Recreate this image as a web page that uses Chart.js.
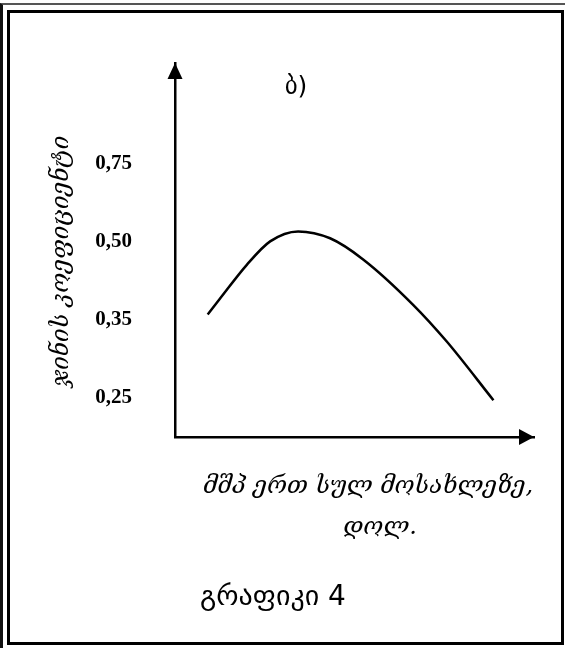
<!DOCTYPE html>
<html>
<head>
<meta charset="utf-8">
<script src="https://cdn.jsdelivr.net/npm/chart.js@4.4.0/dist/chart.umd.min.js"></script>
<style>
  html, body { margin: 0; padding: 0; background: #fff; overflow: hidden; }
  #marco { position: relative; width: 565px; height: 648px; }
  .bordeExt { position: absolute; left: 0; top: 3px; width: 620px; height: 700px; box-sizing: border-box;
    border-left: 3px solid #111; border-top: 2px solid #555; }
  .bordeInt { position: absolute; left: 7px; top: 10px; width: 557px; height: 635px; box-sizing: border-box;
    border: 3px solid #000; }
  canvas { position: absolute; left: 0; top: 0; }
</style>
</head>
<body>
<div id="marco">
  <div class="bordeExt"></div>
  <div class="bordeInt"></div>
  <canvas id="grafico" width="565" height="648"></canvas>
</div>
<script>
// ticks del eje Y (no son equidistantes en valor, pero si en el dibujo)
const yTicks = [0.25, 0.35, 0.5, 0.75];
const yTickLabels = ["0,25", "0,35", "0,50", "0,75"];

// curva: PIB per capita (sin escala numerica) vs coeficiente de Gini
const pibPerCapita = [9.1, 12.5, 20.0, 26.5, 34.3, 43.2, 52.5, 66.4, 75.7, 88.7];
const coefGini = [0.36, 0.39, 0.455, 0.5, 0.532, 0.51, 0.465, 0.378, 0.322, 0.247];

const tituloY = "ჯინის კოეფიციენტი";
const tituloX = ["მშპ ერთ სულ მოსახლეზე,", "დოლ."];
const etiquetaPanel = "ბ)";
const pie = "გრაფიკი 4";

// valor -> posicion (indice fraccional entre ticks)
function aIndice(v) {
  const t = yTicks, n = t.length;
  if (v <= t[0]) return (v - t[0]) / (t[1] - t[0]);
  if (v >= t[n - 1]) return n - 1 + (v - t[n - 1]) / (t[n - 1] - t[n - 2]);
  for (let i = 0; i < n - 1; i++) {
    if (v <= t[i + 1]) return i + (v - t[i]) / (t[i + 1] - t[i]);
  }
}
function deIndice(k) {
  const t = yTicks, n = t.length;
  if (k <= 0) return t[0] + k * (t[1] - t[0]);
  if (k >= n - 1) return t[n - 1] + (k - n + 1) * (t[n - 1] - t[n - 2]);
  const i = Math.floor(k);
  return t[i] + (k - i) * (t[i + 1] - t[i]);
}

// escala por tramos: cada tick ocupa el mismo espacio
class EscalaTramos extends Chart.LinearScale {
  buildTicks() {
    return yTicks.map((v) => ({ value: v }));
  }
  getPixelForValue(v) {
    if (v === null || v === undefined) return NaN;
    const a = aIndice(this.min), b = aIndice(this.max);
    return this.getPixelForDecimal((aIndice(v) - a) / (b - a));
  }
  getValueForPixel(p) {
    const a = aIndice(this.min), b = aIndice(this.max);
    return deIndice(a + this.getDecimalForPixel(p) * (b - a));
  }
}
EscalaTramos.id = "tramos";
EscalaTramos.defaults = Chart.LinearScale.defaults;
Chart.register(EscalaTramos);

const flechasYTextos = {
  id: "flechasYTextos",
  afterDraw(chart) {
    const { ctx, chartArea: a } = chart;
    ctx.save();
    ctx.fillStyle = "#000";

    // flecha eje Y
    ctx.beginPath();
    ctx.moveTo(a.left, a.top);
    ctx.lineTo(a.left - 7.5, a.top + 16);
    ctx.lineTo(a.left + 7.5, a.top + 16);
    ctx.closePath();
    ctx.fill();

    // flecha eje X
    ctx.beginPath();
    ctx.moveTo(a.right, a.bottom);
    ctx.lineTo(a.right - 15, a.bottom - 8);
    ctx.lineTo(a.right - 15, a.bottom + 8);
    ctx.closePath();
    ctx.fill();

    ctx.textAlign = "center";
    ctx.textBaseline = "middle";

    ctx.font = "25px 'DejaVu Sans'";
    ctx.fillText(etiquetaPanel, 296, 87);

    ctx.font = "italic 24px 'DejaVu Serif'";
    ctx.fillText(tituloX[0], 368, 487);
    ctx.fillText(tituloX[1], 380, 528);

    ctx.font = "28px 'DejaVu Sans'";
    ctx.fillText(pie, 273, 598);

    ctx.translate(62, 261);
    ctx.rotate(-Math.PI / 2);
    ctx.font = "italic 24px 'DejaVu Serif'";
    ctx.fillText(tituloY, 0, 0);
    ctx.restore();
  },
};

new Chart(document.getElementById("grafico"), {
  type: "line",
  data: {
    datasets: [
      {
        data: pibPerCapita.map((x, i) => ({ x: x, y: coefGini[i] })),
        borderColor: "#000",
        borderWidth: 2.5,
        pointRadius: 0,
        fill: false,
        cubicInterpolationMode: "monotone",
      },
    ],
  },
  options: {
    responsive: false,
    animation: false,
    layout: { padding: { top: 63, right: 31, left: 0, bottom: 0 } },
    plugins: {
      legend: { display: false },
      tooltip: { enabled: false },
    },
    scales: {
      x: {
        type: "linear",
        min: 0,
        max: 100,
        grid: { display: false },
        border: { display: true, color: "#000", width: 2.5 },
        ticks: { display: false },
        afterFit: (s) => { s.height = 211; },
      },
      y: {
        type: "tramos",
        min: 0.2,
        max: 1.07,
        grid: { display: false },
        border: { display: true, color: "#000", width: 2.5 },
        ticks: {
          padding: 35,
          color: "#000",
          font: { family: "'Liberation Serif'", size: 21, weight: "bold" },
          callback: (v, i) => yTickLabels[i],
        },
        afterFit: (s) => { s.width = 175; },
      },
    },
  },
  plugins: [flechasYTextos],
});
</script>
</body>
</html>
